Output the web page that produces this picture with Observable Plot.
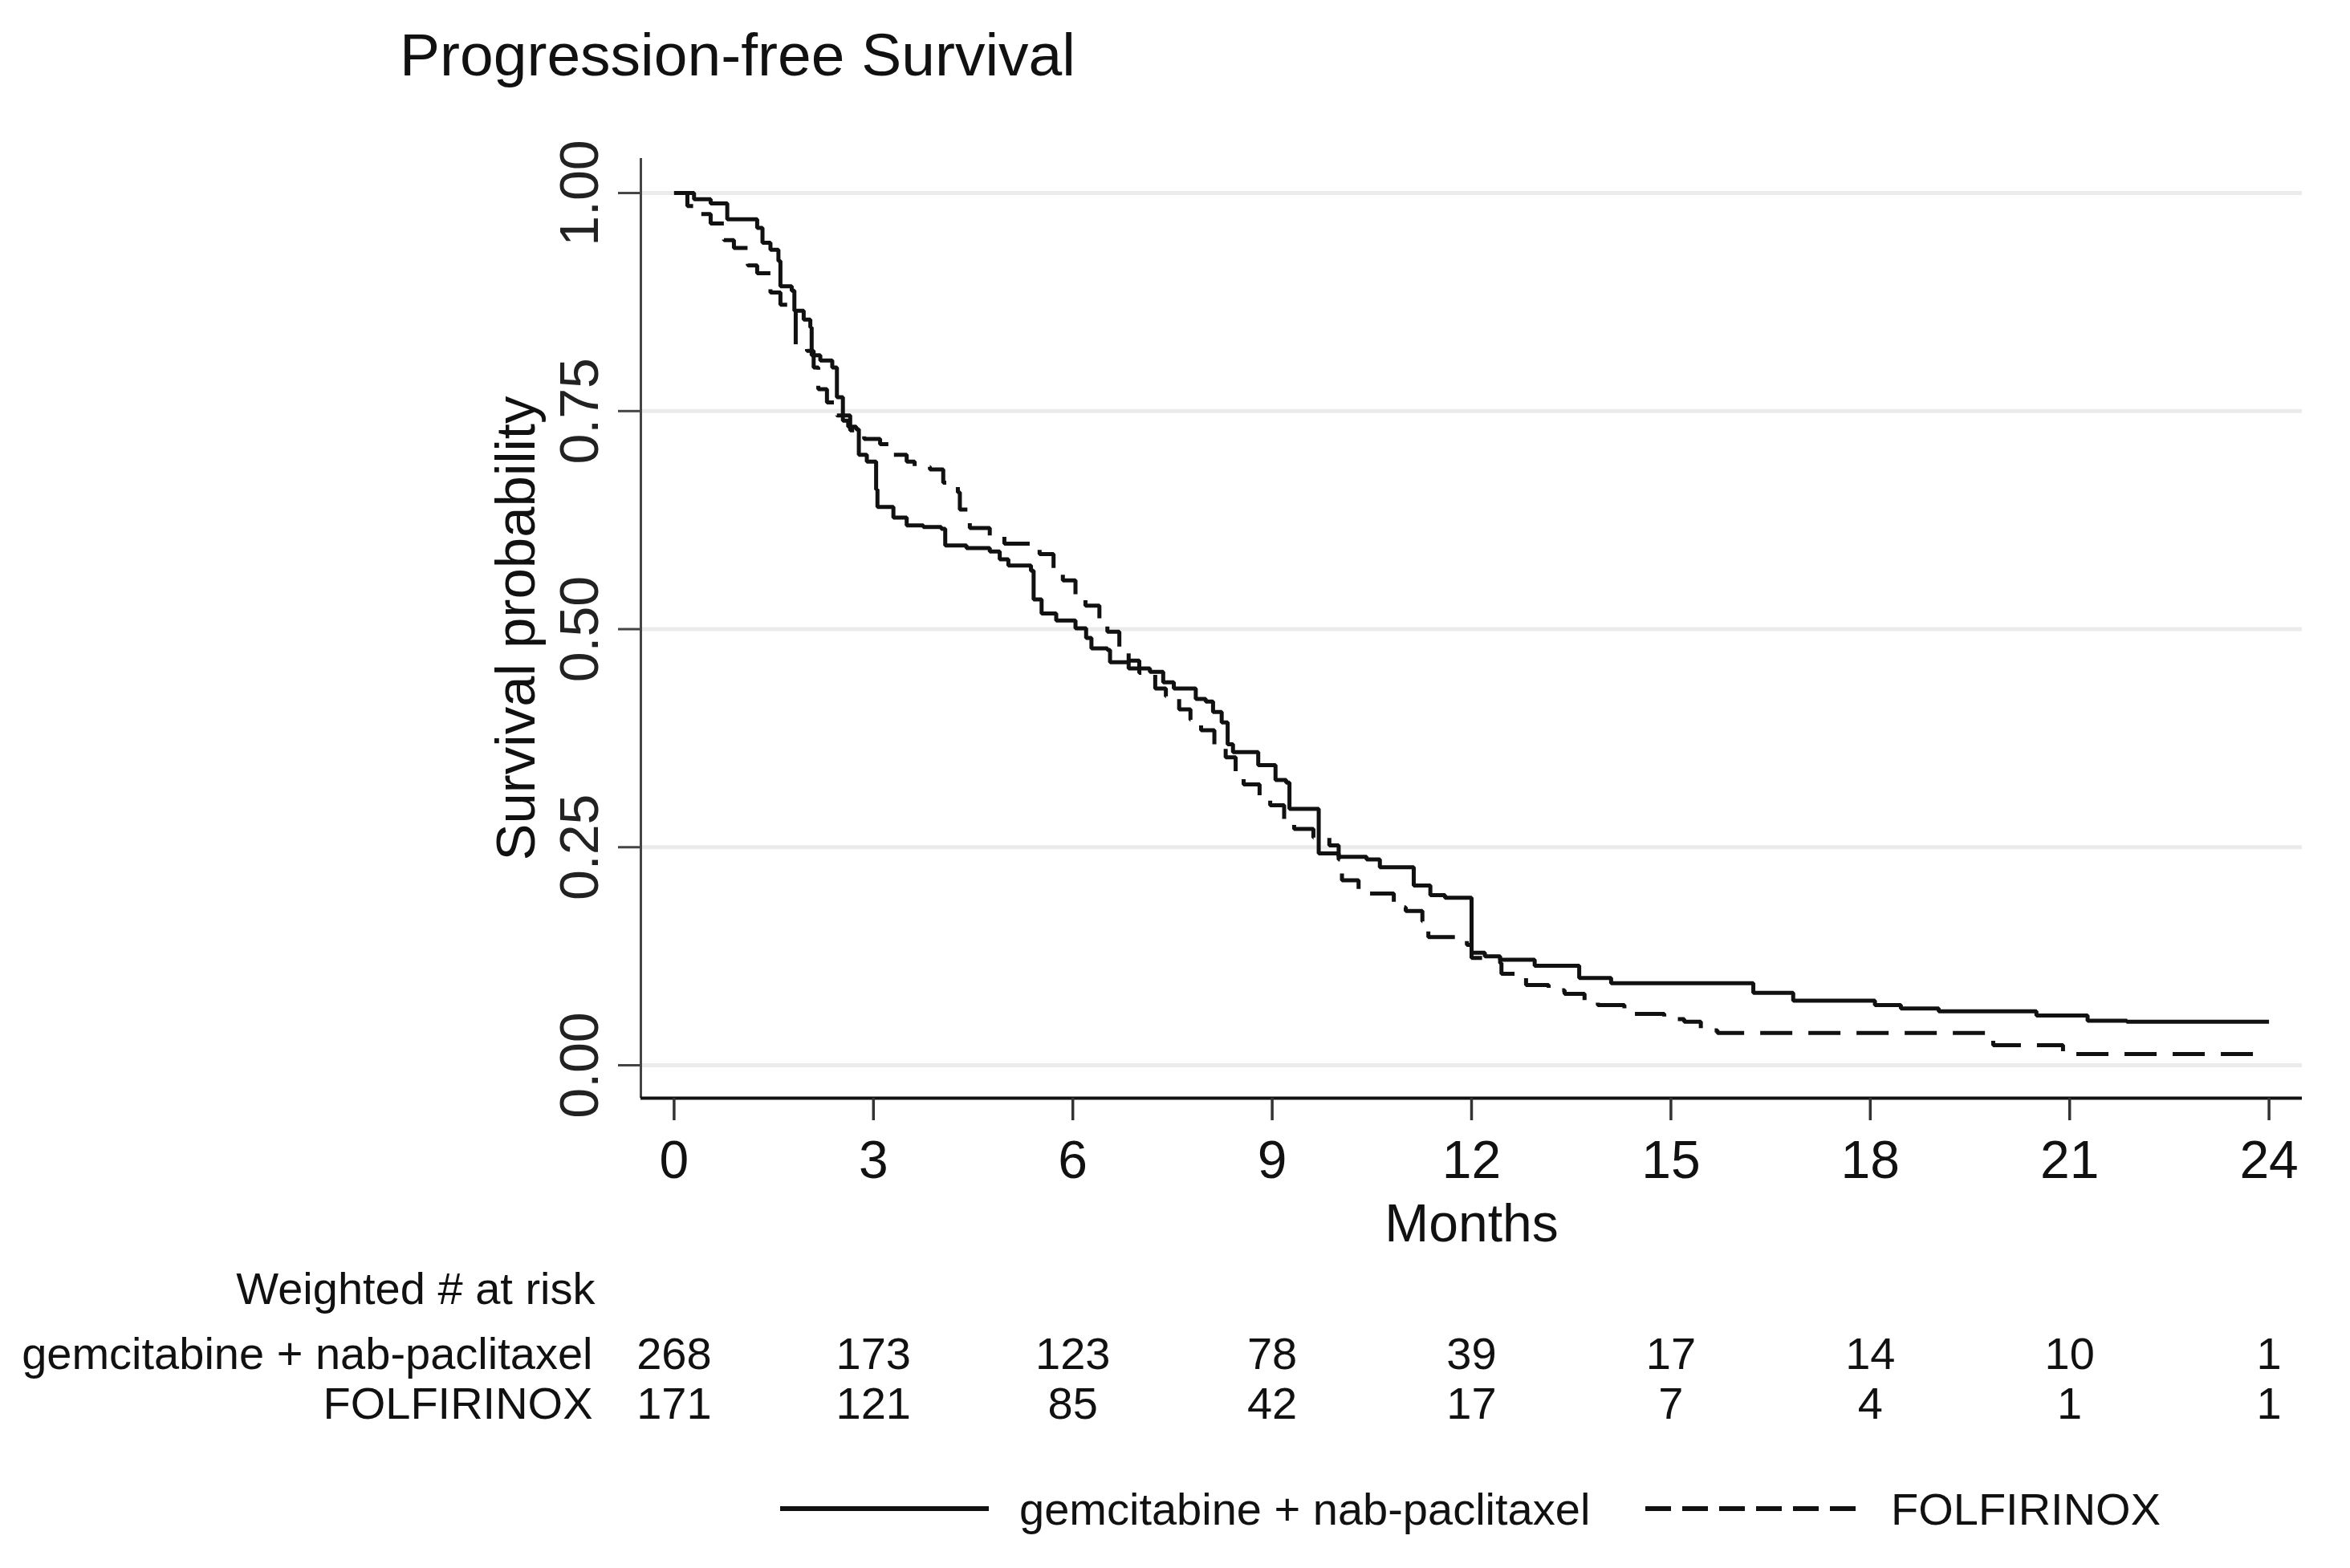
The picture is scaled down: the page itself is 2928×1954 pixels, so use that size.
<!DOCTYPE html>
<html>
<head>
<meta charset="utf-8">
<script src="https://cdn.jsdelivr.net/npm/d3@7"></script>
<script src="https://cdn.jsdelivr.net/npm/@observablehq/plot@0.6"></script>
<style>
  html, body { margin: 0; padding: 0; background: #fff; }
  body { width: 2928px; height: 1954px; overflow: hidden; font-family: "Liberation Sans", Arial, sans-serif; color: #111; }
  #title { position: relative; height: 120px; }
  #title span { position: absolute; left: 498px; top: 31px; font-size: 75px; line-height: 1; white-space: nowrap; }
  #chart svg { display: block; }
  #legend { position: relative; height: 154px; }
  #legend .sw { position: absolute; top: 70px; }
  #legend .lab { position: absolute; top: 53px; font-size: 56px; line-height: 1; white-space: nowrap; }
</style>
</head>
<body>
<div id="title"><span>Progression-free Survival</span></div>
<div id="chart"></div>
<div id="legend">
  <svg class="sw" style="left:972px" width="262" height="20"><line x1="0" y1="10" x2="260" y2="10" stroke="#111" stroke-width="6"/></svg>
  <span class="lab" style="left:1270px">gemcitabine + nab-paclitaxel</span>
  <svg class="sw" style="left:2050px" width="266" height="20"><line x1="0" y1="10" x2="264" y2="10" stroke="#111" stroke-width="6" stroke-dasharray="32,14"/></svg>
  <span class="lab" style="left:2356px">FOLFIRINOX</span>
</div>
<script>
// ---- data ----
const gemTime = [0,0.3,0.55,0.8,1.25,1.33,1.45,1.57,1.6,1.77,1.81,1.95,2.05,2.07,2.2,2.38,2.45,2.54,2.62,2.74,2.78,2.9,3.04,3.06,3.3,3.5,3.75,4.02,4.08,4.4,4.75,4.9,5.03,5.37,5.41,5.53,5.75,6.04,6.2,6.28,6.52,6.56,6.84,7.16,7.36,7.52,7.85,8.0,8.11,8.24,8.33,8.41,8.79,9.05,9.21,9.26,9.70,10.0,10.42,10.62,11.13,11.38,11.6,12.0,12.2,12.43,12.95,13.62,14.1,16.24,16.84,18.07,18.46,19.03,20.5,21.27,21.86,24.0];
const gemSurv = [1.000,0.993,0.988,0.970,0.960,0.943,0.935,0.922,0.893,0.888,0.865,0.855,0.846,0.814,0.808,0.800,0.766,0.739,0.732,0.729,0.700,0.692,0.660,0.640,0.628,0.619,0.617,0.615,0.596,0.593,0.589,0.580,0.573,0.567,0.534,0.518,0.510,0.501,0.490,0.478,0.476,0.462,0.455,0.451,0.439,0.432,0.420,0.417,0.405,0.393,0.368,0.359,0.344,0.327,0.324,0.294,0.243,0.239,0.236,0.227,0.206,0.195,0.192,0.129,0.125,0.121,0.114,0.100,0.094,0.083,0.074,0.069,0.065,0.062,0.057,0.051,0.050,0.050];

const folTime = [0,0.2,0.4,0.55,0.75,0.9,1.11,1.25,1.45,1.6,1.83,2.0,2.1,2.17,2.3,2.45,2.65,2.86,3.1,3.3,3.5,3.62,3.85,4.05,4.27,4.3,4.45,4.75,4.97,5.4,5.5,5.71,5.85,6.04,6.19,6.4,6.52,6.7,6.84,7.0,7.24,7.4,7.6,7.77,7.93,8.13,8.3,8.45,8.57,8.81,8.97,9.18,9.33,9.62,9.86,10.0,10.05,10.3,10.83,11.01,11.26,11.35,11.93,12.0,12.43,12.45,12.82,13.16,13.4,13.7,13.9,14.3,14.9,15.2,15.45,15.7,19.85,20.9,23.95];
const folSurv = [1.0,0.985,0.976,0.965,0.946,0.937,0.917,0.908,0.886,0.872,0.826,0.819,0.800,0.775,0.760,0.745,0.728,0.718,0.712,0.700,0.692,0.686,0.683,0.668,0.657,0.637,0.616,0.606,0.598,0.594,0.586,0.568,0.556,0.539,0.527,0.510,0.497,0.478,0.464,0.450,0.432,0.423,0.408,0.396,0.384,0.365,0.353,0.333,0.322,0.307,0.298,0.281,0.271,0.261,0.252,0.236,0.212,0.197,0.181,0.177,0.165,0.147,0.138,0.123,0.117,0.105,0.092,0.086,0.082,0.073,0.069,0.059,0.053,0.050,0.040,0.037,0.023,0.013,0.013];

const xTicks = [0,3,6,9,12,15,18,21,24];
const yTicks = [0,0.25,0.5,0.75,1];
const riskTimes = [0,3,6,9,12,15,18,21,24];
const gemAtRisk = [268,173,123,78,39,17,14,10,1];
const folAtRisk = [171,121,85,42,17,7,4,1,1];
const groups = ["gemcitabine + nab-paclitaxel", "FOLFIRINOX"];

// ---- tables built from the arrays ----
const gem = gemTime.map((t, i) => ({t, s: gemSurv[i]}));
const fol = folTime.map((t, i) => ({t, s: folSurv[i]}));
const gemRisk = riskTimes.map((t, i) => ({t, n: gemAtRisk[i]}));
const folRisk = riskTimes.map((t, i) => ({t, n: folAtRisk[i]}));

const font = "Liberation Sans, Arial, sans-serif";

const chart = Plot.plot({
  width: 2928,
  height: 1680,
  marginLeft: 798,
  marginRight: 60,
  marginTop: 77,
  marginBottom: 432,
  style: {fontFamily: font, fontSize: "56px", background: "#fff", color: "#111", overflow: "visible"},
  x: {domain: [-0.5, 24.5], axis: null},
  y: {domain: [-0.0377, 1.0396], axis: null},
  marks: [
    // gridlines
    Plot.ruleY(yTicks, {stroke: "#ebebeb", strokeWidth: 5}),
    // y axis line and ticks
    Plot.ruleX([-0.5], {stroke: "#444", strokeWidth: 3}),
    Plot.axisY(yTicks, {tickSize: 28, tickFormat: () => "", stroke: "#444", strokeWidth: 3, label: null}),
    Plot.text(yTicks, {y: d => d, text: d => d3.format(".2f")(d), frameAnchor: "left", dx: -54, rotate: -90,
      textAnchor: "middle", lineAnchor: "bottom", fontSize: 68, fill: "#222"}),
    // x axis line and ticks
    Plot.ruleY([-0.0377], {stroke: "#111", strokeWidth: 4}),
    Plot.axisX(xTicks, {tickSize: 28, tickFormat: () => "", stroke: "#333", strokeWidth: 3.5, label: null, anchor: "bottom"}),
    Plot.text(xTicks, {x: d => d, text: d => String(d), frameAnchor: "bottom", dy: 99, lineAnchor: "bottom", fontSize: 66, fill: "#111"}),
    Plot.text(["Months"], {text: d => d, frameAnchor: "bottom", dy: 178, lineAnchor: "bottom", fontSize: 66, fill: "#111"}),
    Plot.text(["Survival probability"], {text: d => d, frameAnchor: "left", dx: -133, rotate: -90,
      textAnchor: "middle", lineAnchor: "bottom", fontSize: 69, fill: "#111"}),
    // survival curves
    Plot.line(gem, {x: "t", y: "s", curve: "step-after", stroke: "#111", strokeWidth: 5, strokeLinecap: "butt", strokeLinejoin: "miter"}),
    Plot.line(fol, {x: "t", y: "s", curve: "step-after", stroke: "#111", strokeWidth: 5, strokeDasharray: "40,20", strokeLinecap: "butt", strokeLinejoin: "miter"}),
    // number at risk table
    Plot.text(["Weighted # at risk"], {text: d => d, frameAnchor: "bottom-left", dx: -57, dy: 256, textAnchor: "end", lineAnchor: "bottom", fontSize: 56, fill: "#111"}),
    Plot.text([groups[0]], {text: d => d, frameAnchor: "bottom-left", dx: -60, dy: 337, textAnchor: "end", lineAnchor: "bottom", fontSize: 56, fill: "#111"}),
    Plot.text([groups[1]], {text: d => d, frameAnchor: "bottom-left", dx: -60, dy: 399, textAnchor: "end", lineAnchor: "bottom", fontSize: 56, fill: "#111"}),
    Plot.text(gemRisk, {x: "t", text: d => String(d.n), frameAnchor: "bottom", dy: 337, lineAnchor: "bottom", fontSize: 56, fill: "#111"}),
    Plot.text(folRisk, {x: "t", text: d => String(d.n), frameAnchor: "bottom", dy: 399, lineAnchor: "bottom", fontSize: 56, fill: "#111"})
  ]
});
document.getElementById("chart").appendChild(chart);
</script>
</body>
</html>
